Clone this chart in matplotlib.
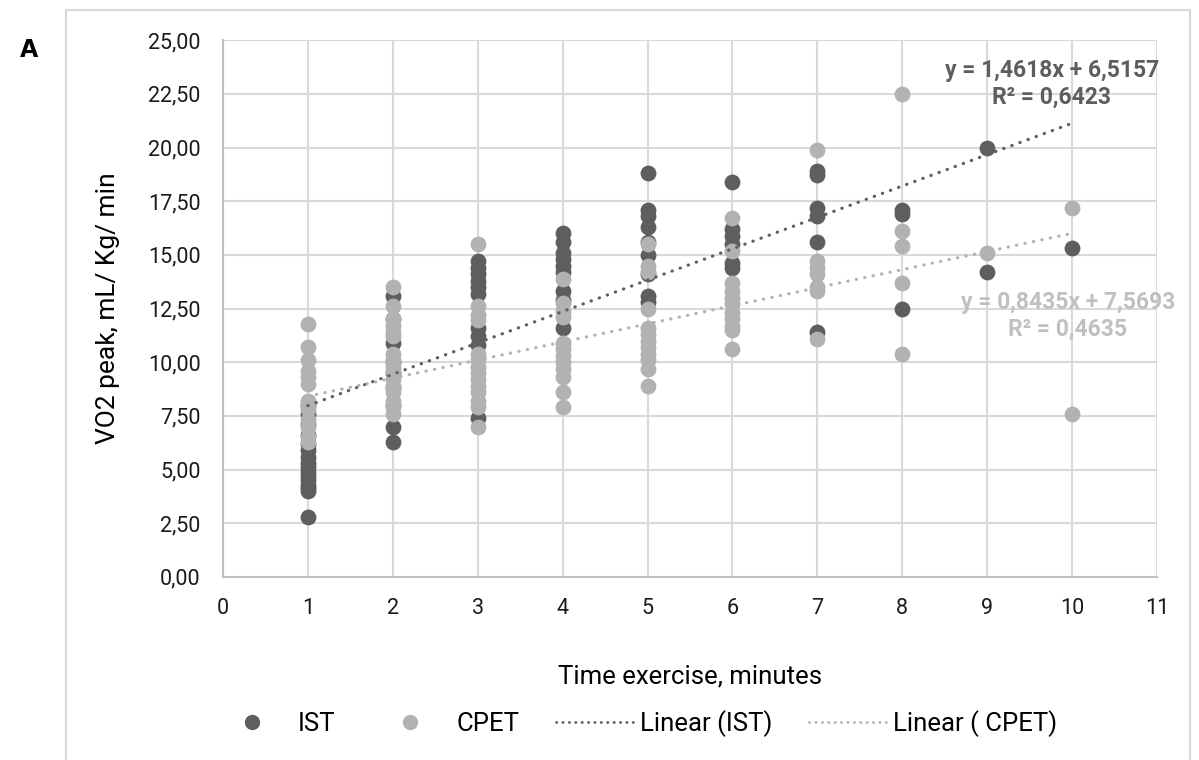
import matplotlib
matplotlib.use("Agg")
import matplotlib.pyplot as plt
from matplotlib import font_manager as fm
from matplotlib.lines import Line2D
from matplotlib.patches import Rectangle
from matplotlib.ticker import FuncFormatter
import numpy as np

# pick a narrow font if there is one
names = {f.name for f in fm.fontManager.ttflist}
family = "Liberation Sans Narrow" if "Liberation Sans Narrow" in names else "Roboto"
plt.rcParams["font.family"] = [family, "DejaVu Sans"]

# VO2 peak per minute of exercise
ist_by_minute = {
    1: [2.8, 4.0, 4.15, 4.3, 4.5, 4.7, 4.9, 5.1, 5.3, 5.6, 5.9, 6.2, 6.6, 7.1, 7.6, 8.0],
    2: [13.1, 12.0, 10.9, 10.0, 9.5, 8.8, 8.0, 7.0, 6.3],
    3: [14.7, 14.4, 14.1, 13.8, 13.5, 13.2, 11.6, 11.2, 10.8, 7.4],
    4: [16.0, 15.6, 15.1, 14.8, 14.5, 14.2, 13.3, 12.9, 11.6],
    5: [18.8, 17.1, 16.8, 16.3, 15.6, 15.0, 14.1, 13.1, 12.8],
    6: [18.4, 16.2, 15.9, 15.5, 14.6, 14.4],
    7: [18.9, 18.7, 17.2, 16.8, 15.6, 11.4],
    8: [17.1, 16.9, 12.5],
    9: [20.0, 14.2],
    10: [15.3],
}
cpet_by_minute = {
    1: [11.8, 10.7, 10.1, 9.6, 9.3, 9.0, 8.2, 8.0, 7.8, 7.3, 7.0, 6.5, 6.3],
    2: [13.5, 12.6, 12.0, 11.7, 11.4, 11.2, 10.4, 10.1, 9.8, 9.6, 9.2, 8.9, 8.6, 8.2, 7.9, 7.6],
    3: [15.5, 12.6, 12.2, 11.95, 10.4, 10.1, 9.8, 9.5, 9.2, 8.9, 8.6, 8.2, 7.9, 7.0],
    4: [13.9, 12.75, 12.4, 12.1, 10.9, 10.6, 10.3, 10.0, 9.7, 9.3, 8.6, 7.9],
    5: [15.5, 14.5, 14.2, 12.5, 11.6, 11.3, 11.0, 10.7, 10.4, 10.1, 9.7, 8.9],
    6: [16.7, 15.2, 13.7, 13.3, 13.0, 12.7, 12.3, 12.0, 11.7, 11.5, 10.6],
    7: [19.9, 14.7, 14.4, 14.1, 13.5, 13.3, 11.1],
    8: [22.5, 16.1, 15.4, 13.7, 10.4],
    9: [15.1],
    10: [17.2, 7.6],
}

# trend lines as printed on the chart
ist_fit = (1.4618, 6.5157)
ist_r2 = 0.6423
cpet_fit = (0.8435, 7.5693)
cpet_r2 = 0.4635
fit_range = [1, 10]

x_ticks = list(range(0, 12))
y_ticks = [0, 2.5, 5, 7.5, 10, 12.5, 15, 17.5, 20, 22.5, 25]

dark = "#5e5e5e"
light = "#b2b2b2"
grid_col = "#d9d9d9"


def flatten(d):
    xs, ys = [], []
    for k, vals in d.items():
        xs += [k] * len(vals)
        ys += vals
    return xs, ys


def comma(v):
    return f"{v:.4f}".replace(".", ",")


fig = plt.figure(figsize=(11.99, 7.6), dpi=100)
ax = fig.add_axes([0.186, 0.241, 0.779, 0.706])

# outer frame of the chart object
fig.patches.append(Rectangle((0.055, -0.01), 0.9375, 0.997, transform=fig.transFigure,
                             fill=False, edgecolor=grid_col, linewidth=1.5))
fig.text(0.017, 0.925, "A", fontsize=17, fontweight="bold", family="DejaVu Sans")

x_ist, y_ist = flatten(ist_by_minute)
x_cpet, y_cpet = flatten(cpet_by_minute)
ax.scatter(x_ist, y_ist, s=130, color=dark, linewidths=0, zorder=3)
ax.scatter(x_cpet, y_cpet, s=130, color=light, linewidths=0, zorder=4)

xf = np.array(fit_range)
dots = (0, (0.1, 2.6))
ax.plot(xf, ist_fit[0] * xf + ist_fit[1], color=dark, lw=2.3, ls=dots,
        dash_capstyle="round", zorder=5)
ax.plot(xf, cpet_fit[0] * xf + cpet_fit[1], color=light, lw=2.3, ls=dots,
        dash_capstyle="round", zorder=5)

ax.text(9.76, 22.95, f"y = {comma(ist_fit[0])}x + {comma(ist_fit[1])}\nR² = {comma(ist_r2)}",
        ha="center", va="center", fontsize=16.5, fontweight="semibold", color=dark,
        linespacing=1.2, zorder=6)
ax.text(9.95, 12.15, f"y = {comma(cpet_fit[0])}x + {comma(cpet_fit[1])}\nR² = {comma(cpet_r2)}",
        ha="center", va="center", fontsize=16.5, fontweight="semibold", color="#c0c0c0",
        linespacing=1.2, zorder=6, clip_on=False)

ax.set_xlim(0, 11)
ax.set_ylim(0, 25)
ax.set_xticks(x_ticks)
ax.set_yticks(y_ticks)
ax.yaxis.set_major_formatter(FuncFormatter(lambda v, p: f"{v:.2f}".replace(".", ",")))
ax.tick_params(length=0, labelsize=15.5, colors="#1a1a1a")
ax.tick_params(axis="y", pad=16)
ax.tick_params(axis="x", pad=15)
ax.grid(True, color=grid_col, linewidth=1.5)
ax.set_axisbelow(True)
for side in ["top", "right"]:
    ax.spines[side].set_visible(False)
for side in ["left", "bottom"]:
    ax.spines[side].set_color("#bfbfbf")
    ax.spines[side].set_linewidth(1.5)

ax.set_xlabel("Time exercise, minutes", fontsize=18.5, labelpad=33)
ax.set_ylabel("VO2 peak, mL/ Kg/ min", fontsize=19, labelpad=20)

handles = [
    Line2D([], [], ls="none", marker="o", markersize=10, color=dark),
    Line2D([], [], ls="none", marker="o", markersize=10, color=light),
    Line2D([], [], color=dark, lw=2, ls=(0, (0.1, 2.2)), dash_capstyle="round"),
    Line2D([], [], color=light, lw=2, ls=(0, (0.1, 2.2)), dash_capstyle="round"),
]
labels = ["IST", "CPET", "Linear (IST)", "Linear ( CPET)"]
fig.legend(handles, labels, loc="center", bbox_to_anchor=(0.53, 0.048), ncol=4,
           frameon=False, fontsize=18.5, handlelength=3.0, columnspacing=1.4,
           handletextpad=0.3)

fig.savefig("out.png", dpi=100)
